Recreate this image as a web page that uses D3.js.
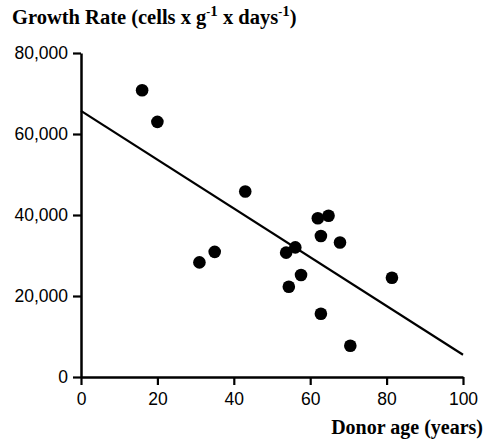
<!DOCTYPE html>
<html>
<head>
<meta charset="utf-8">
<script src="https://cdn.jsdelivr.net/npm/d3@7"></script>
<style>
  body { margin: 0; background: #fff; }
  svg { display: block; }
</style>
</head>
<body>
<figure id="scatter" style="margin:0"></figure>
<script>
// donor age (years) and growth rate
const ages = [16, 20, 43, 35, 31, 53.7, 56.1, 57.6, 54.4, 62, 64.8, 62.8, 67.8, 81.4, 62.8, 70.5];
const rates = [70800, 63000, 45800, 30900, 28300, 30700, 32000, 25200, 22300, 39200, 39800, 34800, 33200, 24500, 15600, 7700];

// fitted line end points
const fitAges = [0, 100];
const fitRates = [65700, 5500];

const xTicks = [0, 20, 40, 60, 80, 100];
const yTicks = [0, 20000, 40000, 60000, 80000];

const width = 486, height = 440;
const margin = {left: 81, right: 23, top: 53, bottom: 63};

const svg = d3.select("figure#scatter")
  .append("svg")
  .attr("width", width)
  .attr("height", height);

const x = d3.scaleLinear()
  .domain([0, 100])
  .range([margin.left, width - margin.right]);

const y = d3.scaleLinear()
  .domain([0, 80000])
  .range([height - margin.bottom, margin.top]);

// x axis
const gx = svg.append("g")
  .attr("transform", "translate(0," + y(0) + ")")
  .call(d3.axisBottom(x).tickValues(xTicks).tickSize(8).tickSizeOuter(0).tickPadding(8));

// y axis
const gy = svg.append("g")
  .attr("transform", "translate(" + x(0) + ",0)")
  .call(d3.axisLeft(y).tickValues(yTicks).tickFormat(d3.format(",")).tickSize(8).tickSizeOuter(0).tickPadding(5));

[gx, gy].forEach(g => {
  g.select(".domain").attr("stroke-width", 2.5).attr("stroke", "#000");
  g.selectAll(".tick line").attr("stroke-width", 2.2).attr("stroke", "#000");
  g.selectAll(".tick text")
    .attr("fill", "#000")
    .style("font-family", "'Liberation Sans', Arial, sans-serif")
    .style("font-size", "17.5px");
});
gy.selectAll(".tick text").attr("dy", "0.3em");

// regression line
const line = d3.line()
  .x(d => x(d[0]))
  .y(d => y(d[1]));

svg.append("path")
  .datum(fitAges.map((a, i) => [a, fitRates[i]]))
  .attr("d", line)
  .attr("fill", "none")
  .attr("stroke", "#000")
  .attr("stroke-width", 2.2);

// points
svg.selectAll("circle.pt")
  .data(ages.map((a, i) => ({age: a, rate: rates[i]})))
  .enter()
  .append("circle")
  .attr("class", "pt")
  .attr("cx", d => x(d.age))
  .attr("cy", d => y(d.rate))
  .attr("r", 6.3)
  .attr("fill", "#000");

// titles
const serif = "'Liberation Serif', 'Times New Roman', serif";

const title = svg.append("text")
  .attr("x", 12)
  .attr("y", 24)
  .style("font-family", serif)
  .style("font-weight", "bold")
  .style("font-size", "20.5px");
title.append("tspan").text("Growth Rate (cells x g");
title.append("tspan").attr("dy", -8).style("font-size", "12px").text("-");
title.append("tspan").style("font-size", "15px").text("1");
title.append("tspan").attr("dy", 8).text(" x days");
title.append("tspan").attr("dy", -8).style("font-size", "12px").text("-");
title.append("tspan").style("font-size", "15px").text("1");
title.append("tspan").attr("dy", 8).text(")");

svg.append("text")
  .attr("x", 483)
  .attr("y", 434)
  .attr("text-anchor", "end")
  .style("font-family", serif)
  .style("font-weight", "bold")
  .style("font-size", "20px")
  .text("Donor age (years)");
</script>
</body>
</html>
